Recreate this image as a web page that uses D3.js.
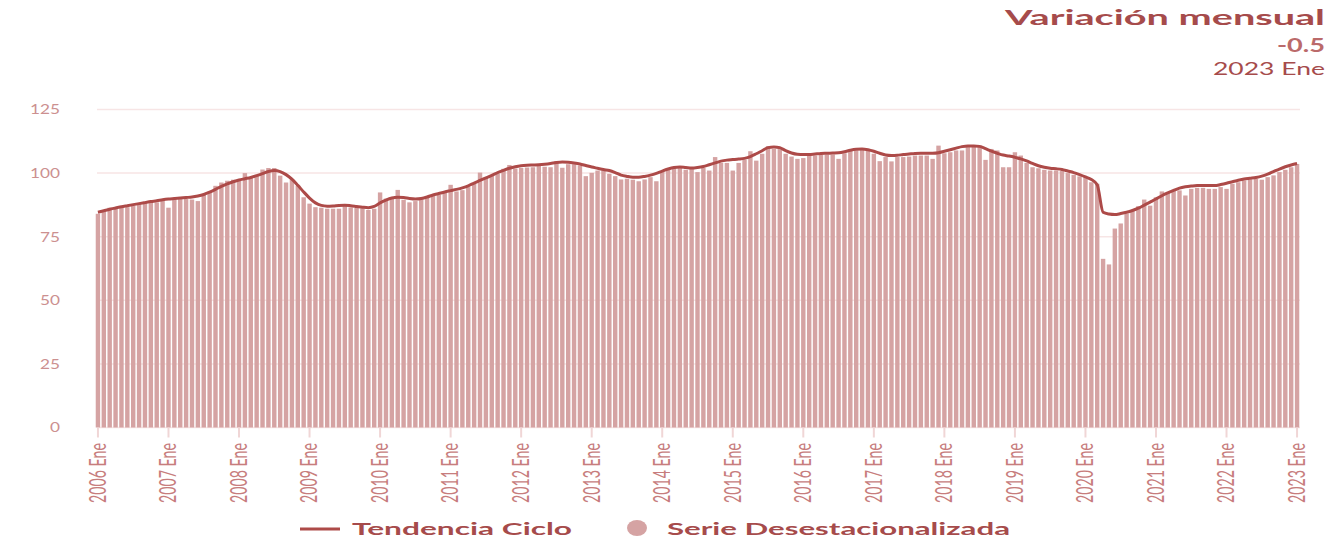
<!DOCTYPE html>
<html>
<head>
<meta charset="utf-8">
<script src="https://cdn.jsdelivr.net/npm/d3@7"></script>
<style>
    body { margin: 0; background: #fff; }
    svg { display: block; font-family: Lato, 'Open Sans', sans-serif; }
</style>
</head>
<body>
<div id="chart"></div>
<script>
const monthNames = ['Ene', 'Feb', 'Mar', 'Abr', 'May', 'Jun', 'Jul', 'Ago', 'Sep', 'Oct', 'Nov', 'Dic'];
const firstYear = 2006;

// Serie desestacionalizada (monthly, 2006 Ene .. 2023 Ene)
const serie = [
    84.0, 85.3, 86.4, 86.6, 86.9, 86.6, 87.3, 87.9, 87.9, 88.3, 88.5, 89.2, // 2006
    86.4, 89.6, 90.0, 89.8, 89.6, 89.0, 91.4, 92.7, 95.0, 96.3, 97.0, 97.4, // 2007
    97.0, 100.0, 98.3, 99.0, 101.4, 102.0, 102.0, 99.0, 96.3, 97.6, 95.0, 90.5, // 2008
    88.0, 86.6, 86.4, 86.0, 86.0, 86.0, 87.7, 86.5, 86.3, 86.2, 85.5, 86.0, // 2009
    92.4, 90.0, 90.3, 93.4, 89.5, 88.5, 89.0, 89.8, 90.5, 91.2, 91.5, 92.5, // 2010
    95.4, 92.8, 93.3, 94.5, 95.8, 100.2, 98.4, 99.1, 99.7, 101.7, 103.2, 101.8, // 2011
    102.0, 102.2, 102.3, 102.8, 102.5, 102.3, 104.7, 102.1, 103.5, 103.5, 103.0, 98.8, // 2012
    100.1, 101.0, 101.0, 99.7, 98.8, 97.5, 97.8, 97.4, 96.8, 97.5, 98.4, 96.8, // 2013
    100.8, 101.7, 102.0, 102.0, 101.3, 102.0, 100.4, 102.0, 101.0, 106.3, 104.0, 104.0, // 2014
    101.0, 104.0, 105.2, 108.6, 104.9, 107.6, 110.6, 109.5, 110.2, 107.6, 106.5, 105.6, // 2015
    105.9, 106.9, 106.9, 107.3, 107.3, 107.3, 105.6, 107.8, 108.9, 108.9, 109.5, 109.5, // 2016
    107.6, 104.7, 106.3, 104.6, 106.3, 106.3, 106.5, 106.9, 106.9, 106.9, 105.6, 110.8, // 2017
    107.8, 108.2, 108.9, 108.9, 110.2, 110.6, 110.8, 105.2, 109.5, 108.9, 102.3, 102.3, // 2018
    108.2, 106.9, 104.0, 102.3, 101.9, 101.3, 101.0, 101.0, 100.8, 100.0, 99.3, 98.7, // 2019
    98.4, 96.4, 95.8, 66.3, 64.1, 78.2, 80.2, 84.1, 85.4, 87.0, 89.6, 87.2, // 2020
    90.5, 92.8, 92.2, 93.2, 93.2, 91.2, 93.8, 94.2, 94.2, 93.8, 93.8, 94.5, // 2021
    93.8, 95.8, 96.4, 97.1, 97.5, 97.8, 97.4, 98.4, 99.1, 100.4, 101.3, 102.3, // 2022
    103.6 // 2023
];

// Tendencia ciclo
const tendencia = [
    84.6, 85.2, 85.8, 86.3, 86.8, 87.2, 87.6, 88.0, 88.4, 88.8, 89.1, 89.5, // 2006
    89.8, 90.0, 90.2, 90.4, 90.6, 91.0, 91.6, 92.5, 93.6, 94.8, 95.8, 96.6, // 2007
    97.3, 97.8, 98.3, 99.0, 99.8, 100.6, 101.0, 100.6, 99.4, 97.6, 95.2, 92.6, // 2008
    90.2, 88.3, 87.3, 87.0, 87.1, 87.3, 87.4, 87.2, 86.9, 86.6, 86.4, 86.9, // 2009
    88.3, 89.4, 90.2, 90.5, 90.4, 90.0, 89.8, 90.0, 90.6, 91.4, 92.0, 92.6, // 2010
    93.1, 93.6, 94.2, 95.0, 96.1, 97.1, 98.1, 99.1, 100.2, 101.1, 101.9, 102.5, // 2011
    102.9, 103.1, 103.2, 103.3, 103.5, 103.8, 104.2, 104.4, 104.3, 104.0, 103.6, 103.0, // 2012
    102.4, 101.9, 101.4, 101.0, 100.2, 99.2, 98.7, 98.4, 98.4, 98.7, 99.2, 99.9, // 2013
    100.8, 101.6, 102.2, 102.4, 102.2, 102.0, 102.2, 102.6, 103.3, 104.0, 104.7, 105.1, // 2014
    105.3, 105.5, 105.8, 106.5, 107.6, 108.8, 110.0, 110.3, 110.0, 108.8, 107.9, 107.4, // 2015
    107.3, 107.3, 107.5, 107.7, 107.8, 107.9, 108.0, 108.4, 109.0, 109.4, 109.5, 109.2, // 2016
    108.6, 107.8, 107.1, 106.9, 107.0, 107.3, 107.5, 107.7, 107.8, 107.8, 107.8, 108.0, // 2017
    108.6, 109.2, 109.8, 110.4, 110.7, 110.7, 110.5, 109.6, 108.6, 107.8, 107.1, 106.7, // 2018
    106.2, 105.6, 104.8, 103.8, 102.9, 102.3, 101.9, 101.7, 101.4, 100.8, 100.2, 99.4, // 2019
    98.5, 97.5, 95.4, 84.6, 83.9, 83.7, 84.1, 84.6, 85.3, 86.2, 87.4, 88.6, // 2020
    89.8, 91.1, 92.2, 93.2, 94.1, 94.6, 94.9, 95.1, 95.1, 95.1, 95.1, 95.5, // 2021
    96.0, 96.6, 97.2, 97.7, 98.0, 98.3, 98.8, 99.6, 100.6, 101.6, 102.5, 103.2, // 2022
    103.8 // 2023
];

const yTicks = [0, 25, 50, 75, 100, 125];
const titleText = 'Variación mensual';
const changeText = '-0.5';
const periodText = '2023 Ene';
const legendLine = 'Tendencia Ciclo';
const legendBars = 'Serie Desestacionalizada';

const colors = {
    bar: '#d5a3a3',
    line: '#ad4a48',
    grid: '#f7e5e5',
    tick: '#f0d6d6',
    yLabel: '#cc9090',
    xLabel: '#c77d7d',
    title: '#a64b4b',
    change: '#bb6a6a'
};

const width = 1331;
const height = 539;

const periods = serie.map((_, i) => `${firstYear + Math.floor(i / 12)} ${monthNames[i % 12]}`);
const rows = periods.map((p, i) => ({ period: p, serie: serie[i], tendencia: tendencia[i] }));

const svg = d3.select('#chart').append('svg')
    .attr('width', width)
    .attr('height', height);

const x = d3.scaleBand()
    .domain(periods)
    .range([95, 1300])
    .paddingInner(0.25)
    .paddingOuter(0.125);

const y = d3.scaleLinear().domain([0, 125]).range([427.5, 109.5]);

const cx = (p) => x(p) + x.bandwidth() / 2;

// horizontal grid
svg.append('g')
    .selectAll('line')
    .data(yTicks)
    .join('line')
    .attr('x1', 97)
    .attr('x2', 1300)
    .attr('y1', (d) => y(d))
    .attr('y2', (d) => y(d))
    .attr('stroke', colors.grid)
    .attr('stroke-width', 1.5);

// y labels
svg.append('g')
    .selectAll('text')
    .data(yTicks)
    .join('text')
    .attr('x', (d) => 60 - String(d).length * 10)
    .attr('y', (d) => y(d))
    .attr('dy', '0.35em')
    .attr('textLength', (d) => String(d).length * 10)
    .attr('lengthAdjust', 'spacingAndGlyphs')
    .attr('fill', colors.yLabel)
    .style('font-size', '14px')
    .text((d) => d);

// bars
svg.append('g')
    .selectAll('rect')
    .data(rows)
    .join('rect')
    .attr('x', (d) => x(d.period))
    .attr('width', x.bandwidth())
    .attr('y', (d) => y(d.serie))
    .attr('height', (d) => y(0) - y(d.serie))
    .attr('fill', colors.bar);

// trend line
const line = d3.line()
    .x((d) => cx(d.period))
    .y((d) => y(d.tendencia))
    .curve(d3.curveMonotoneX);

svg.append('path')
    .datum(rows)
    .attr('d', line)
    .attr('fill', 'none')
    .attr('stroke', colors.line)
    .attr('stroke-width', 3)
    .attr('stroke-linejoin', 'round');

// x axis: every January
const janTicks = periods.filter((p) => p.endsWith('Ene'));
const xAxis = svg.append('g')
    .attr('transform', `translate(0,${y(0)})`)
    .call(d3.axisBottom(x).tickValues(janTicks).tickSize(10).tickFormat(''));

xAxis.select('.domain').remove();
xAxis.selectAll('.tick line').attr('stroke', colors.tick).attr('stroke-width', 2);

svg.append('g')
    .selectAll('text')
    .data(janTicks)
    .join('text')
    .attr('transform', (d) => `translate(${cx(d)},443) rotate(-90) scale(1,1.6)`)
    .attr('text-anchor', 'end')
    .attr('dy', '0.35em')
    .attr('textLength', 60)
    .attr('lengthAdjust', 'spacingAndGlyphs')
    .attr('fill', colors.xLabel)
    .style('font-size', '14px')
    .text((d) => d);

// header, top right
svg.append('text')
    .attr('x', 1005).attr('y', 25)
    .attr('textLength', 320).attr('lengthAdjust', 'spacingAndGlyphs')
    .attr('fill', colors.title)
    .style('font-size', '21px').style('font-weight', 700)
    .text(titleText);

svg.append('text')
    .attr('x', 1277).attr('y', 52)
    .attr('textLength', 48).attr('lengthAdjust', 'spacingAndGlyphs')
    .attr('fill', colors.change)
    .style('font-size', '19px').style('font-weight', 700)
    .text(changeText);

svg.append('text')
    .attr('x', 1213).attr('y', 75)
    .attr('textLength', 112).attr('lengthAdjust', 'spacingAndGlyphs')
    .attr('fill', colors.title)
    .style('font-size', '17px')
    .text(periodText);

// legend
const legend = svg.append('g');
legend.append('line')
    .attr('x1', 300).attr('x2', 340)
    .attr('y1', 529).attr('y2', 529)
    .attr('stroke', colors.line).attr('stroke-width', 3);
legend.append('text')
    .attr('x', 352).attr('y', 535)
    .attr('textLength', 220).attr('lengthAdjust', 'spacingAndGlyphs')
    .attr('fill', colors.title)
    .style('font-size', '17px').style('font-weight', 700)
    .text(legendLine);
legend.append('ellipse')
    .attr('cx', 637).attr('cy', 528)
    .attr('rx', 10).attr('ry', 8)
    .attr('fill', colors.bar);
legend.append('text')
    .attr('x', 667).attr('y', 535)
    .attr('textLength', 343).attr('lengthAdjust', 'spacingAndGlyphs')
    .attr('fill', colors.title)
    .style('font-size', '17px').style('font-weight', 700)
    .text(legendBars);
</script>
</body>
</html>
